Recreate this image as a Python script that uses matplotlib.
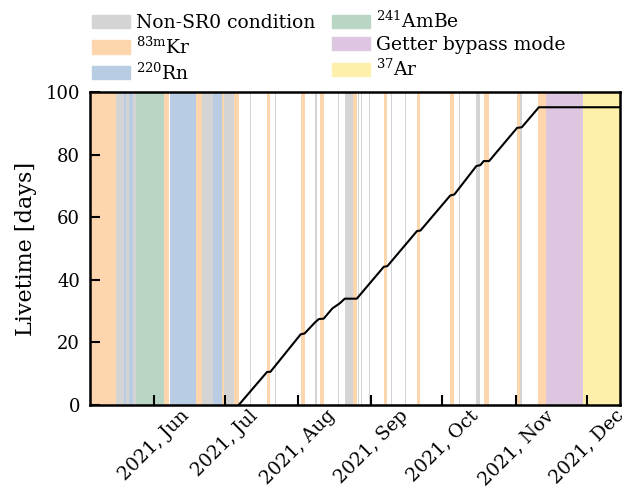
import pandas as pd
import matplotlib
matplotlib.use("Agg")
import matplotlib.pyplot as plt
import matplotlib.dates as mdates
from matplotlib.patches import Patch

plt.rcParams["font.family"] = "DejaVu Serif"
plt.rcParams["mathtext.fontset"] = "dejavuserif"

# calibration / condition periods (start, end)
kr_periods = [
    ("2021-05-05 00:00", "2021-05-16 05:00"),
    ("2021-06-05 05:00", "2021-06-07 07:00"),
    ("2021-06-18 17:00", "2021-06-21 05:00"),
    ("2021-06-29 22:00", "2021-06-30 17:00"),
    ("2021-07-04 22:00", "2021-07-06 22:00"),
    ("2021-07-18 22:00", "2021-07-20 07:00"),
    ("2021-08-02 02:00", "2021-08-03 19:00"),
    ("2021-08-10 02:00", "2021-08-11 19:00"),
    ("2021-08-24 05:00", "2021-08-25 19:00"),
    ("2021-09-06 05:00", "2021-09-07 17:00"),
    ("2021-09-20 05:00", "2021-09-21 17:00"),
    ("2021-10-04 02:00", "2021-10-05 17:00"),
    ("2021-10-18 10:00", "2021-10-20 17:00"),
    ("2021-11-01 12:00", "2021-11-02 22:00"),
    ("2021-11-10 10:00", "2021-11-13 14:00"),
]
nonsr0_periods = [
    ("2021-05-16 05:00", "2021-05-19 12:00"),
    ("2021-05-20 12:00", "2021-05-21 10:00"),
    ("2021-05-23 07:00", "2021-05-24 17:00"),
    ("2021-06-21 05:00", "2021-06-26 02:00"),
    ("2021-06-30 17:00", "2021-07-04 22:00"),
    ("2021-07-11 20:00", "2021-07-12 03:00"),
    ("2021-07-22 09:00", "2021-07-22 16:00"),
    ("2021-08-08 02:00", "2021-08-08 19:00"),
    ("2021-08-16 02:00", "2021-08-16 09:00"),
    ("2021-08-17 19:00", "2021-08-18 02:00"),
    ("2021-08-20 17:00", "2021-08-24 05:00"),
    ("2021-08-26 11:00", "2021-08-26 18:00"),
    ("2021-08-27 14:00", "2021-08-27 21:00"),
    ("2021-08-31 04:00", "2021-08-31 11:00"),
    ("2021-09-09 07:00", "2021-09-09 14:00"),
    ("2021-09-15 04:00", "2021-09-15 11:00"),
    ("2021-09-17 02:00", "2021-09-17 09:00"),
    ("2021-09-24 09:00", "2021-09-24 16:00"),
    ("2021-10-08 04:00", "2021-10-08 11:00"),
    ("2021-10-09 02:00", "2021-10-09 09:00"),
    ("2021-10-15 07:00", "2021-10-16 17:00"),
    ("2021-11-02 22:00", "2021-11-03 12:00"),
    ("2021-11-10 14:00", "2021-11-10 21:00"),
    ("2021-12-03 21:00", "2021-12-04 04:00"),
]
rn_periods = [
    ("2021-05-19 12:00", "2021-05-20 12:00"),
    ("2021-05-21 10:00", "2021-05-23 05:00"),
    ("2021-06-08 02:00", "2021-06-18 17:00"),
    ("2021-06-26 02:00", "2021-06-29 22:00"),
]
ambe_periods = [("2021-05-24 17:00", "2021-06-05 05:00")]
getter_periods = [("2021-11-13 14:00", "2021-11-29 10:00")]
ar_periods = [("2021-11-29 10:00", "2021-12-14 22:00")]

# cumulative livetime
live_dates = [
    "2021-07-06 22:00", "2021-07-18 22:00", "2021-07-20 07:00",
    "2021-08-02 02:00", "2021-08-03 19:00", "2021-08-08 00:00",
    "2021-08-09 19:00", "2021-08-11 19:00", "2021-08-15 12:00",
    "2021-08-18 14:00", "2021-08-20 17:00", "2021-08-25 19:00",
    "2021-09-06 05:00", "2021-09-07 17:00", "2021-09-20 05:00",
    "2021-09-21 17:00", "2021-10-04 07:00", "2021-10-06 00:00",
    "2021-10-15 07:00", "2021-10-17 00:00", "2021-10-18 10:00",
    "2021-10-20 17:00", "2021-11-01 12:00", "2021-11-03 12:00",
    "2021-11-10 17:00", "2021-12-14 22:00",
]
live_days = [
    0.0, 10.6, 10.6,
    22.6, 22.9, 26.3,
    27.5, 27.6, 30.9,
    32.5, 34.0, 34.0,
    44.2, 44.4, 55.6,
    55.8, 67.0, 67.3,
    76.4, 76.7, 78.0,
    78.0, 88.6, 88.8,
    95.2, 95.2,
]

x_start = "2021-05-05 00:00"
x_end = "2021-12-14 22:00"

colors = {
    "grey": "#d4d4d4",
    "kr": "#fed6ad",
    "rn": "#b8cde4",
    "ambe": "#b9d5c3",
    "getter": "#dcc6e0",
    "ar": "#fef0ab",
}

fig = plt.figure(figsize=(6.41, 4.88), dpi=100)
ax = fig.add_axes([0.140, 0.170, 0.827, 0.641])

for periods, c in [(kr_periods, colors["kr"]), (rn_periods, colors["rn"]),
                   (ambe_periods, colors["ambe"]), (getter_periods, colors["getter"]),
                   (ar_periods, colors["ar"]), (nonsr0_periods, colors["grey"])]:
    for s, e in periods:
        ax.axvspan(pd.Timestamp(s), pd.Timestamp(e), color=c, lw=0)

ax.plot(pd.to_datetime(live_dates), live_days, color="black", lw=1.5)

ax.set_xlim(pd.Timestamp(x_start), pd.Timestamp(x_end))
ax.set_ylim(0, 100)
ax.set_ylabel("Livetime [days]", fontsize=16, labelpad=6)

ax.xaxis.set_major_locator(mdates.MonthLocator())
ax.xaxis.set_major_formatter(mdates.DateFormatter("%Y, %b"))
ax.tick_params(axis="both", direction="in", length=7, width=1.5, labelsize=13)
ax.tick_params(axis="y", pad=7)
ax.tick_params(axis="x", rotation=45, pad=1, labelsize=13.5)
for sp in ax.spines.values():
    sp.set_linewidth(1.8)

handles = [
    Patch(color=colors["grey"], label="Non-SR0 condition"),
    Patch(color=colors["kr"], label=r"$^{83\mathrm{m}}$Kr"),
    Patch(color=colors["rn"], label=r"$^{220}$Rn"),
    Patch(color=colors["ambe"], label=r"$^{241}$AmBe"),
    Patch(color=colors["getter"], label="Getter bypass mode"),
    Patch(color=colors["ar"], label=r"$^{37}$Ar"),
]
fig.legend(handles=handles, ncol=2, frameon=False, fontsize=13.5,
           loc="upper left", bbox_to_anchor=(0.132, 0.994),
           handlelength=2.0, handleheight=0.7, labelspacing=0.25,
           columnspacing=0.9, handletextpad=0.35, borderaxespad=0)

fig.savefig("out.png", dpi=100)
